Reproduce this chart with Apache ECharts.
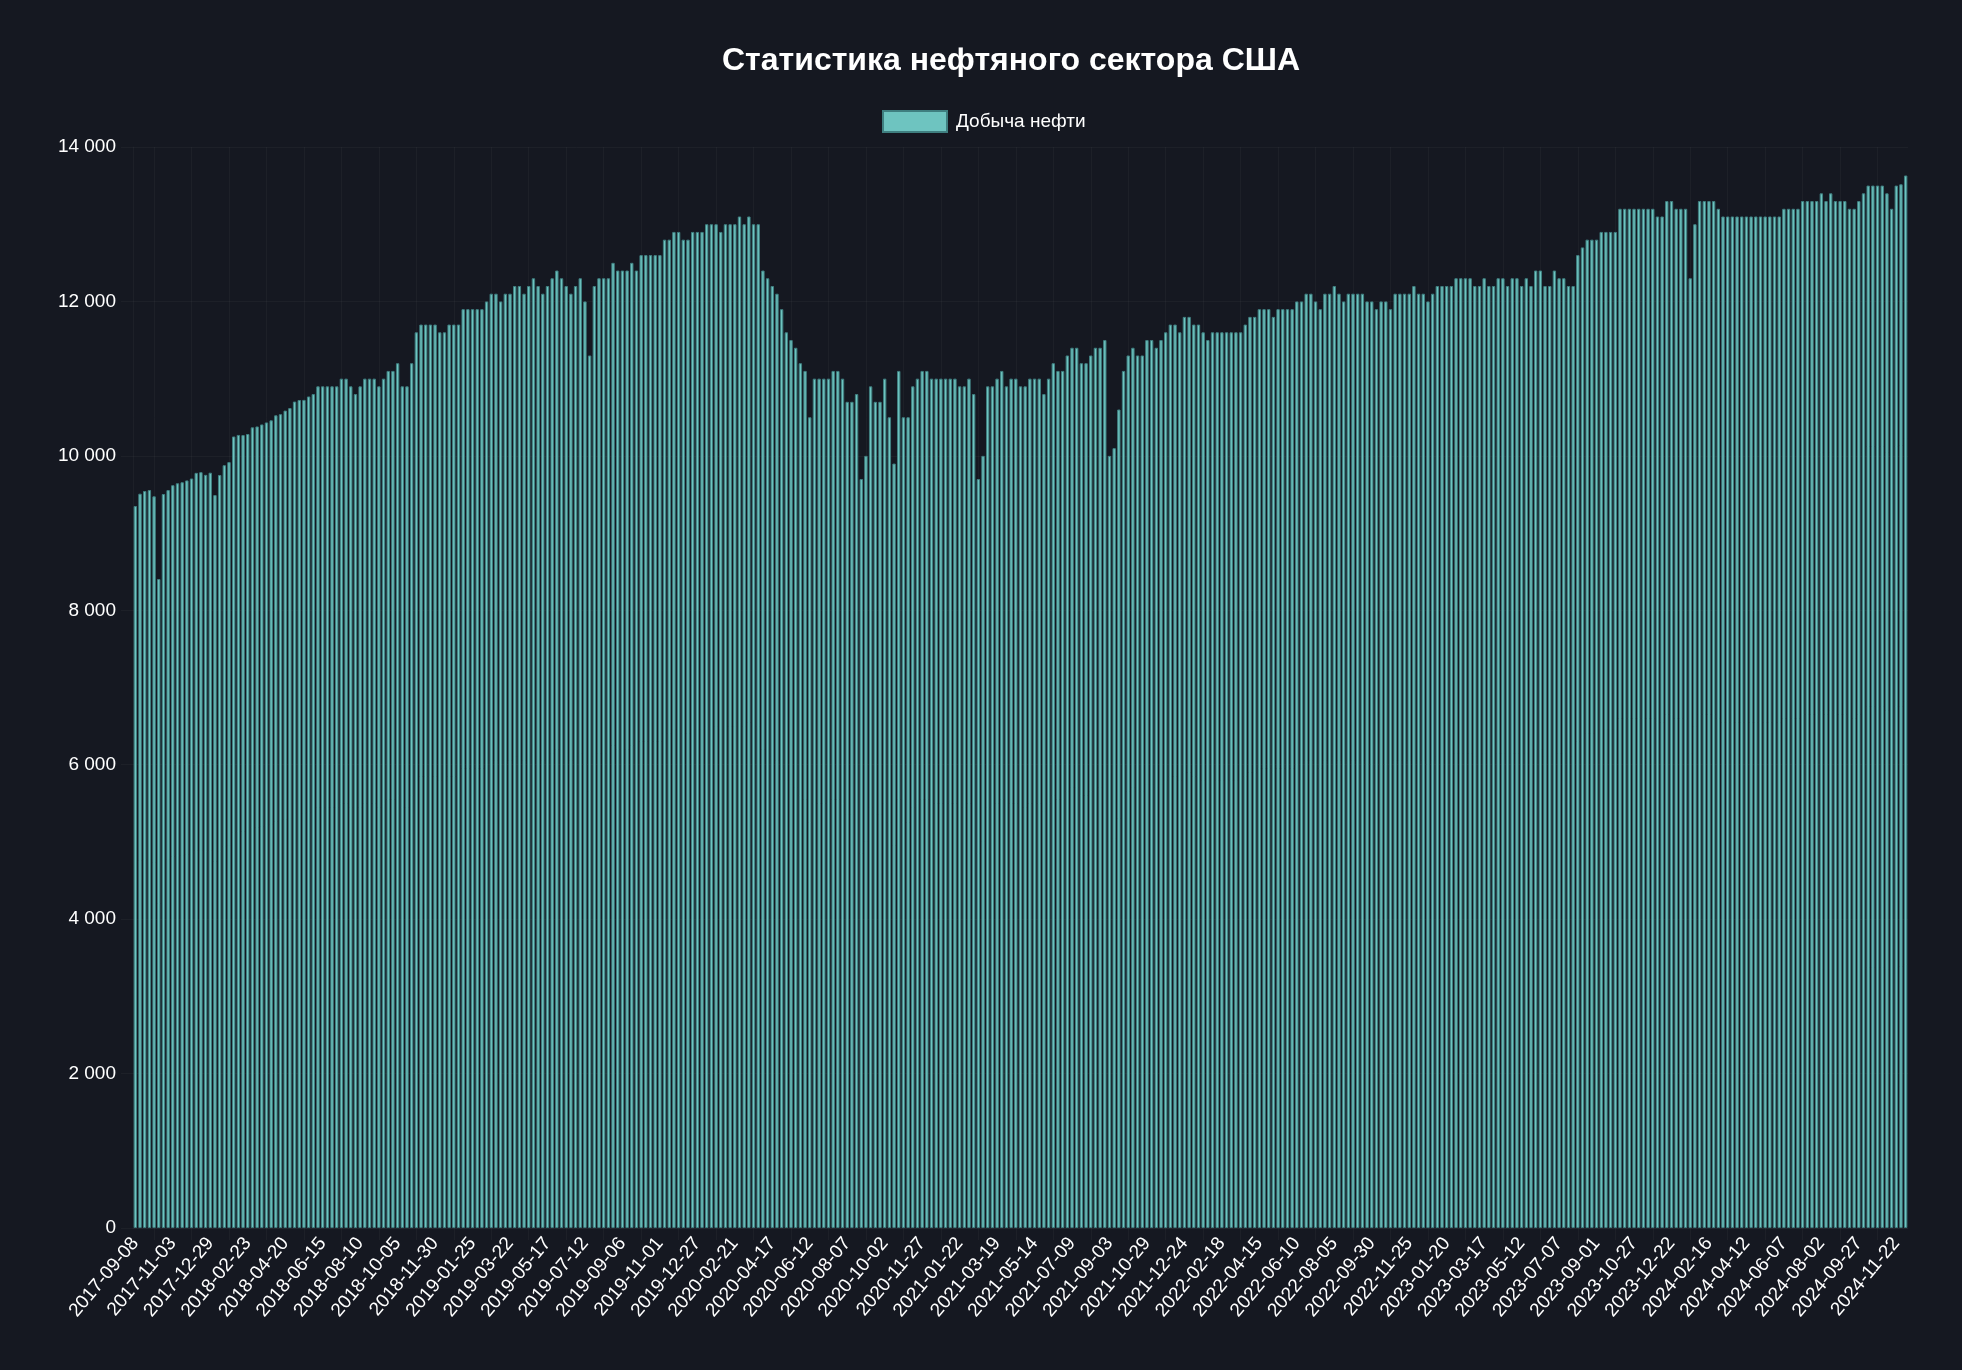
<!DOCTYPE html>
<html>
<head>
<meta charset="utf-8">
<script src="https://cdn.jsdelivr.net/npm/echarts@6/dist/echarts.min.js"></script>
<style>
html,body{margin:0;padding:0;background:#151821;}
#chart{width:1962px;height:1370px;}
</style>
</head>
<body>
<div id="chart"></div>
<script>
// ---- Data (weekly US crude oil production, thousand barrels/day) ----
const TITLE = 'Статистика нефтяного сектора США';
const SERIES_NAME = 'Добыча нефти';
const START_DATE = '2017-09-08'; // first weekly category (Fridays)

const prod2017 = [9350, 9510, 9545, 9557, 9476, 8405, 9506, 9557, 9620, 9645, 9658, 9682, 9707, 9780, 9789, 9754, 9782];
const prod2018 = [9492, 9752, 9879, 9919, 10251, 10271, 10269, 10283, 10369, 10381, 10407, 10433, 10460, 10525, 10540, 10586,
  10619, 10703, 10723, 10725, 10769, 10800, 10900, 10900, 10900, 10900, 10900, 11000, 11000, 10900, 10800, 10900,
  11000, 11000, 11000, 10900, 11000, 11100, 11100, 11200, 10900, 10900, 11200, 11600, 11700, 11700, 11700, 11700,
  11600, 11600, 11700, 11700];
const prod2019 = [11700, 11900, 11900, 11900, 11900, 11900, 12000, 12100, 12100, 12000, 12100, 12100, 12200, 12200, 12100, 12200,
  12300, 12200, 12100, 12200, 12300, 12400, 12300, 12200, 12100, 12200, 12300, 12000, 11300, 12200, 12300, 12300,
  12300, 12500, 12400, 12400, 12400, 12500, 12400, 12600, 12600, 12600, 12600, 12600, 12800, 12800, 12900, 12900,
  12800, 12800, 12900, 12900];
const prod2020 = [12900, 13000, 13000, 13000, 12900, 13000, 13000, 13000, 13100, 13000, 13100, 13000, 13000, 12400, 12300, 12200,
  12100, 11900, 11600, 11500, 11400, 11200, 11100, 10500, 11000, 11000, 11000, 11000, 11100, 11100, 11000, 10700,
  10700, 10800, 9700, 10000, 10900, 10700, 10700, 11000, 10500, 9900, 11100, 10500, 10500, 10900, 11000, 11100,
  11100, 11000, 11000, 11000];
const prod2021 = [11000, 11000, 11000, 10900, 10900, 11000, 10800, 9700, 10000, 10900, 10900, 11000, 11100, 10900, 11000, 11000,
  10900, 10900, 11000, 11000, 11000, 10800, 11000, 11200, 11100, 11100, 11300, 11400, 11400, 11200, 11200, 11300,
  11400, 11400, 11500, 10000, 10100, 10600, 11100, 11300, 11400, 11300, 11300, 11500, 11500, 11400, 11500, 11600,
  11700, 11700, 11600, 11800, 11800];
const prod2022 = [11700, 11700, 11600, 11500, 11600, 11600, 11600, 11600, 11600, 11600, 11600, 11700, 11800, 11800, 11900, 11900,
  11900, 11800, 11900, 11900, 11900, 11900, 12000, 12000, 12100, 12100, 12000, 11900, 12100, 12100, 12200, 12100,
  12000, 12100, 12100, 12100, 12100, 12000, 12000, 11900, 12000, 12000, 11900, 12100, 12100, 12100, 12100, 12200,
  12100, 12100, 12000, 12100];
const prod2023 = [12200, 12200, 12200, 12200, 12300, 12300, 12300, 12300, 12200, 12200, 12300, 12200, 12200, 12300, 12300, 12200,
  12300, 12300, 12200, 12300, 12200, 12400, 12400, 12200, 12200, 12400, 12300, 12300, 12200, 12200, 12600, 12700,
  12800, 12800, 12800, 12900, 12900, 12900, 12900, 13200, 13200, 13200, 13200, 13200, 13200, 13200, 13200, 13100,
  13100, 13300, 13300, 13200];
const prod2024 = [13200, 13200, 12300, 13000, 13300, 13300, 13300, 13300, 13200, 13100, 13100, 13100, 13100, 13100, 13100, 13100,
  13100, 13100, 13100, 13100, 13100, 13100, 13200, 13200, 13200, 13200, 13300, 13300, 13300, 13300, 13400, 13300,
  13400, 13300, 13300, 13300, 13200, 13200, 13300, 13400, 13500, 13500, 13500, 13500, 13400, 13200, 13500, 13517,
  13631];

const yTicks = [0, 2000, 4000, 6000, 8000, 10000, 12000, 14000];

const production = [].concat(prod2017, prod2018, prod2019, prod2020, prod2021, prod2022, prod2023, prod2024);

function weeklyDates(start, n) {
  const p = start.split('-').map(Number);
  const t0 = Date.UTC(p[0], p[1] - 1, p[2]);
  const out = [];
  for (let i = 0; i < n; i++) out.push(new Date(t0 + i * 7 * 86400000).toISOString().slice(0, 10));
  return out;
}
const categories = weeklyDates(START_DATE, production.length);

// ---- Styles ----
const FONT = '"Liberation Sans", Arial, Helvetica, sans-serif';
const GRID_COLOR = 'rgba(255,255,255,0.035)';
const BAR_COLOR = '#6ec4c0';
const BAR_BORDER = '#3f7f80';

function fmt(v) { return String(v).replace(/\B(?=(\d{3})+(?!\d))/g, ' '); }

const chart = echarts.init(document.getElementById('chart'), null, { renderer: 'canvas' });
chart.setOption({
  backgroundColor: '#151821',
  animation: false,
  title: {
    text: TITLE,
    left: 1006, top: 40, textAlign: 'center',
    textStyle: { color: '#ffffff', fontSize: 32, fontWeight: 'bold', fontFamily: FONT }
  },
  legend: {
    data: [SERIES_NAME], left: 877, top: 105,
    itemWidth: 64, itemHeight: 21, icon: 'rect',
    textStyle: { color: '#ffffff', fontSize: 19, fontFamily: FONT, padding: [0, 0, 0, 4] }
  },
  grid: { left: 133, right: 54, top: 147, bottom: 142, containLabel: false },
  xAxis: {
    type: 'category', data: categories, boundaryGap: true,
    axisLine: { show: true, lineStyle: { color: GRID_COLOR } },
    axisTick: { show: true, alignWithLabel: true, interval: (i) => i % 8 === 4, length: 12, lineStyle: { color: GRID_COLOR } },
    axisLabel: { interval: 7, rotate: 50, color: '#ffffff', fontSize: 19, fontFamily: FONT, margin: 12 },
    splitLine: { show: true, alignWithLabel: true, interval: (i) => i % 8 === 4, lineStyle: { color: GRID_COLOR } }
  },
  yAxis: {
    type: 'value', min: yTicks[0], max: yTicks[yTicks.length - 1], interval: yTicks[1] - yTicks[0],
    axisLine: { show: true, lineStyle: { color: GRID_COLOR } },
    axisTick: { show: true, length: 12, lineStyle: { color: GRID_COLOR } },
    axisLabel: { color: '#ffffff', fontSize: 19, fontFamily: FONT, margin: 17, formatter: fmt },
    splitLine: { show: true, lineStyle: { color: GRID_COLOR } }
  },
  series: [{
    name: SERIES_NAME, type: 'bar', data: production, barWidth: '72%',
    itemStyle: { color: BAR_COLOR, borderColor: BAR_BORDER, borderWidth: 1 }
  }]
});
</script>
</body>
</html>
